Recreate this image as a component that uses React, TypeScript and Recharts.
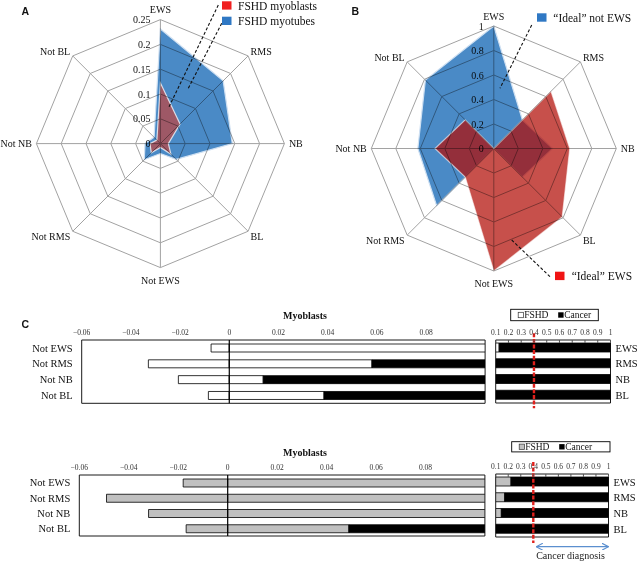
import React from 'react';
import {
  RadarChart, Radar, PolarGrid, PolarAngleAxis, PolarRadiusAxis,
  BarChart, Bar, XAxis, YAxis, ReferenceLine, ReferenceArea,
} from 'recharts';

const SERIF = '"Liberation Serif", "Times New Roman", serif';
const SANS = '"Liberation Sans", Arial, sans-serif';

// ---------- Panel A / B data ----------
const radarCategories = ['EWS', 'RMS', 'NB', 'BL', 'Not EWS', 'Not RMS', 'Not NB', 'Not BL'];
const fshdMyoblasts = [0.122, 0.056, 0.016, 0.03, 0.008, 0.026, 0.021, 0.01];
const fshdMyotubes = [0.231, 0.179, 0.145, 0.045, 0.02, 0.046, 0.031, 0.018];
const idealNotEws = [1, 0.33, 0.48, 0.33, 0, 0.66, 0.62, 0.79];
const idealEws = [0, 0.66, 0.62, 0.79, 1, 0.33, 0.48, 0.33];
const radarTicksA = [0, 0.05, 0.1, 0.15, 0.2, 0.25];
const radarTicksB = [0, 0.2, 0.4, 0.6, 0.8, 1];

// ---------- Panel C data ----------
const notCategories = ['Not EWS', 'Not RMS', 'Not NB', 'Not BL'];
const cancerCategories = ['EWS', 'RMS', 'NB', 'BL'];
const scoreTicks = [-0.06, -0.04, -0.02, 0, 0.02, 0.04, 0.06, 0.08];
const fracTicks = [0.1, 0.2, 0.3, 0.4, 0.5, 0.6, 0.7, 0.8, 0.9, 1];
const SCORE_MIN = -0.06;
const SCORE_MAX = 0.104;
const FRAC_MIN = 0.1;
const FRAC_MAX = 1;
const diagnosisThreshold = 0.4;

// upper row (FSHD = white)
const topNotScore = [-0.0074, -0.0329, -0.0207, -0.0085];
const topFshdScore = [0.12, 0.058, 0.0138, 0.0385];
const topCancerScore = [0.02, 0.08, 0.1, 0.08];
const topFshdFrac = [0.127, 0.06, 0.05, 0.05];
const topCancerFrac = [0.873, 0.94, 0.95, 0.95];

// lower row (FSHD = grey)
const botNotScore = [-0.018, -0.049, -0.032, -0.0168];
const botFshdScore = [0.12, 0.12, 0.12, 0.049];
const botCancerScore = [0.02, 0.02, 0.02, 0.07];
const botFshdFrac = [0.222, 0.172, 0.145, 0.06];
const botCancerFrac = [0.778, 0.828, 0.855, 0.94];

// ---------- build tables ----------
const dataA = radarCategories.map((cat, i) => ({ cat, myoblasts: fshdMyoblasts[i], myotubes: fshdMyotubes[i] }));
const dataB = radarCategories.map((cat, i) => ({ cat, notEws: idealNotEws[i], ews: idealEws[i] }));
const scoreTop = notCategories.map((cat, i) => ({ cat, not: topNotScore[i], fshd: topFshdScore[i], cancer: topCancerScore[i] }));
const scoreBot = notCategories.map((cat, i) => ({ cat, not: botNotScore[i], fshd: botFshdScore[i], cancer: botCancerScore[i] }));
const fracTop = cancerCategories.map((cat, i) => ({ cat, fshd: topFshdFrac[i], cancer: topCancerFrac[i] }));
const fracBot = cancerCategories.map((cat, i) => ({ cat, fshd: botFshdFrac[i], cancer: botCancerFrac[i] }));

const BLUE = '#4a8ac6';
const W = 639;
const H = 561;

const makeAngleTick = (cx: number, cy: number, r: number) => (props: any) => {
  const { payload } = props;
  const a = (payload.coordinate * Math.PI) / 180;
  const c = Math.cos(a);
  const s = Math.sin(a);
  const vx = cx + r * c;
  const vy = cy - r * s;
  let x = vx;
  let y = vy;
  let anchor = 'middle';
  if (Math.abs(c) < 0.01) {
    y = s > 0 ? vy - 10 : vy + 12.5;
  } else {
    anchor = c > 0 ? 'start' : 'end';
    const horiz = Math.abs(s) < 0.01;
    x = vx + (c > 0 ? 1 : -1) * (horiz ? 4.5 : 2.5);
    y = horiz ? vy : s > 0 ? vy - 4 : vy + 5;
  }
  return (
    <text x={x} y={y} textAnchor={anchor} dominantBaseline="central" fontSize={10} fontFamily={SERIF} fill="#111">
      {payload.value}
    </text>
  );
};

function RadarPanel({ left, top, width, height, cx, cy, r, ticks, data, series }: any) {
  const d0 = ticks[0];
  const d1 = ticks[ticks.length - 1];
  const toR = (v: number) => ((v - d0) / (d1 - d0)) * r;
  const ringRadii = ticks.map(toR);
  const common = { width, height, data, cx, cy, outerRadius: r, margin: { top: 0, right: 0, bottom: 0, left: 0 } };
  return (
    <>
      <div style={{ position: 'absolute', left, top }}>
        <RadarChart {...common}>
          <PolarAngleAxis dataKey="cat" tick={false} axisLine={false} tickLine={false} />
          <PolarRadiusAxis angle={90} type="number" domain={[d0, d1]} tick={false} axisLine={false} tickLine={false} />
          {series.map((s: any) => (
            <Radar key={s.key} dataKey={s.key} name={s.name} fill={s.fill} fillOpacity={s.opacity}
              stroke={s.stroke} strokeOpacity={s.strokeOpacity} strokeWidth={s.strokeWidth} dot={false} isAnimationActive={false} />
          ))}
        </RadarChart>
      </div>
      <div style={{ position: 'absolute', left, top, mixBlendMode: 'multiply' }}>
        <RadarChart {...common}>
          <PolarGrid gridType="polygon" stroke="#a2a2a2" strokeWidth={1} polarRadius={ringRadii} />
          <PolarAngleAxis dataKey="cat" tick={makeAngleTick(cx, cy, r)} axisLine={false} tickLine={false} />
          <PolarRadiusAxis angle={90} type="number" domain={[d0, d1]} tick={false} axisLine={false} tickLine={false} />
          <Radar dataKey={series[0].key} fill="none" stroke="none" dot={false} isAnimationActive={false} />
        </RadarChart>
        <svg width={width} height={height} style={{ position: 'absolute', left: 0, top: 0 }}>
          {ticks.map((v: number) => (
            <text key={v} x={cx - 10} y={cy - toR(v)} textAnchor="end" dominantBaseline="central" fontSize={10} fontFamily={SERIF} fill="#111">
              {String(v)}
            </text>
          ))}
        </svg>
      </div>
    </>
  );
}

const fmtScore = (v: number) => (v < 0 ? '\u2212' + String(Math.abs(v)) : String(v));

function ScoreChart({ left, top, width, height, margin, yWidth, data, fshdFill }: any) {
  return (
    <div style={{ position: 'absolute', left, top }}>
      <BarChart layout="vertical" width={width} height={height} data={data} margin={margin} stackOffset="sign" barSize={8}>
        <XAxis type="number" orientation="top" domain={[SCORE_MIN, SCORE_MAX]} ticks={scoreTicks} allowDataOverflow
          interval={0} axisLine={false} tickLine={false} tickSize={3} tickMargin={2} height={20}
          tick={{ fontSize: 7.5, fill: '#333', fontFamily: SERIF }} tickFormatter={fmtScore} />
        <YAxis type="category" dataKey="cat" width={yWidth} axisLine={false} tickLine={false} tickSize={6} tickMargin={3}
          interval={0} tick={{ fontSize: 10.5, fill: '#111', fontFamily: SERIF }} />
        <Bar dataKey="not" stackId="s" fill={fshdFill} stroke="#000" strokeWidth={0.8} isAnimationActive={false} />
        <Bar dataKey="fshd" stackId="s" fill={fshdFill} stroke="#000" strokeWidth={0.8} isAnimationActive={false} />
        <Bar dataKey="cancer" stackId="s" fill="#000" stroke="#000" strokeWidth={0.8} isAnimationActive={false} />
        <ReferenceLine x={0} stroke="#000" strokeWidth={1.2} />
        <ReferenceArea x1={SCORE_MIN} x2={SCORE_MAX} fill="none" fillOpacity={0} stroke="#1a1a1a" strokeWidth={1} />
      </BarChart>
    </div>
  );
}

function FracChart({ left, top, width, height, margin, data, fshdFill, extTop, extBottom }: any) {
  const dashShape = (p: any) => (
    <line x1={p.x1} x2={p.x2} y1={Math.min(p.y1, p.y2) - extTop} y2={Math.max(p.y1, p.y2) + extBottom}
      stroke="#e0201c" strokeWidth={2.4} strokeDasharray="4 1.6" />
  );
  return (
    <div style={{ position: 'absolute', left, top }}>
      <BarChart layout="vertical" width={width} height={height} data={data} margin={margin} barSize={9}>
        <XAxis type="number" orientation="top" domain={[FRAC_MIN, FRAC_MAX]} ticks={fracTicks} allowDataOverflow
          interval={0} axisLine={false} tickLine={{ stroke: '#555' }} tickSize={-3} tickMargin={8} height={20}
          tick={{ fontSize: 7.5, fill: '#333', fontFamily: SERIF }} />
        <YAxis type="category" dataKey="cat" orientation="right" width={28} axisLine={false} tickLine={false}
          tickSize={3} tickMargin={2} interval={0} tick={{ fontSize: 10.5, fill: '#111', fontFamily: SERIF }} />
        <Bar dataKey="fshd" stackId="f" fill={fshdFill} stroke="#000" strokeWidth={0.8} isAnimationActive={false} />
        <Bar dataKey="cancer" stackId="f" fill="#000" stroke="#000" strokeWidth={0.8} isAnimationActive={false} />
        <ReferenceArea x1={FRAC_MIN} x2={FRAC_MAX} fill="none" fillOpacity={0} stroke="#1a1a1a" strokeWidth={1} />
        <ReferenceLine x={diagnosisThreshold} shape={dashShape} />
      </BarChart>
    </div>
  );
}

function LegendC({ x, y, w, h, fshdFill }: any) {
  const cy = y + h / 2;
  return (
    <g>
      <rect x={x} y={y} width={w} height={h} fill="#fff" stroke="#000" strokeWidth={0.9} />
      <rect x={x + 7.5} y={cy - 2.7} width={5.4} height={5.4} fill={fshdFill} stroke="#333" strokeWidth={0.7} />
      <text x={x + 13.5} y={cy + 0.4} dominantBaseline="central" fontSize={9.5} fontFamily={SERIF} fill="#111">FSHD</text>
      <rect x={x + 47.5} y={cy - 2.7} width={5.4} height={5.4} fill="#000" />
      <text x={x + 53.5} y={cy + 0.4} dominantBaseline="central" fontSize={9.5} fontFamily={SERIF} fill="#111">Cancer</text>
    </g>
  );
}

export default function App() {
  const fracLeftBot = 495.7;
  const fracWidthBot = 112.8;
  const fx = (v: number) => fracLeftBot + ((v - FRAC_MIN) / (FRAC_MAX - FRAC_MIN)) * fracWidthBot;

  return (
    <div style={{ position: 'absolute', left: 0, top: 0, width: W, height: H, background: '#fff', overflow: 'hidden', fontFamily: SERIF }}>
      <RadarPanel left={0} top={0} width={320} height={300} cx={160.4} cy={143.6} r={124} ticks={radarTicksA} data={dataA}
        series={[
          { key: 'myotubes', name: 'FSHD myotubes', fill: BLUE, opacity: 1, stroke: '#cfe0f2', strokeOpacity: 1, strokeWidth: 1.2 },
          { key: 'myoblasts', name: 'FSHD myoblasts', fill: 'rgb(187,71,69)', opacity: 0.75, stroke: '#ffffff', strokeOpacity: 0.75, strokeWidth: 1.2 },
        ]} />
      <RadarPanel left={320} top={0} width={319} height={300} cx={173.8} cy={148.5} r={122.5} ticks={radarTicksB} data={dataB}
        series={[
          { key: 'notEws', name: '\u201CIdeal\u201D not EWS', fill: BLUE, opacity: 1, stroke: '#cfe0f2', strokeOpacity: 1, strokeWidth: 1.2 },
          { key: 'ews', name: '\u201CIdeal\u201D EWS', fill: 'rgb(178,12,5)', opacity: 0.72, stroke: '#ffffff', strokeOpacity: 0.6, strokeWidth: 1.2 },
        ]} />

      <ScoreChart left={0} top={300} width={500} height={120} yWidth={81.7}
        margin={{ top: 20, right: 14.9, bottom: 16.7, left: 0 }} data={scoreTop} fshdFill="#ffffff" />
      <FracChart left={490} top={300} width={149} height={120}
        margin={{ top: 20, right: 0.5, bottom: 17, left: 5.7 }} data={fracTop} fshdFill="#ffffff" extTop={6.7} extBottom={5.3} />
      <ScoreChart left={0} top={430} width={500} height={120} yWidth={79.3}
        margin={{ top: 25, right: 15.1, bottom: 14, left: 0 }} data={scoreBot} fshdFill="#c0c0c0" />
      <FracChart left={490} top={430} width={149} height={120}
        margin={{ top: 24, right: 2.5, bottom: 13, left: 5.7 }} data={fracBot} fshdFill="#c0c0c0" extTop={12} extBottom={6} />

      <svg width={W} height={H} style={{ position: 'absolute', left: 0, top: 0, pointerEvents: 'none' }}>
        <defs>
          <marker id="chev" viewBox="0 0 8 8" refX="7.5" refY="4" markerWidth="7" markerHeight="7" orient="auto-start-reverse" markerUnits="userSpaceOnUse">
            <path d="M0,0 L7.5,4 L0,8" fill="none" stroke="#5b8fcf" strokeWidth={1.3} />
          </marker>
        </defs>
        <text x={21.5} y={15} fontSize={10.5} fontWeight="bold" fontFamily={SANS} fill="#111">A</text>
        <text x={351.5} y={15} fontSize={10.5} fontWeight="bold" fontFamily={SANS} fill="#111">B</text>
        <text x={21.5} y={327.5} fontSize={10.5} fontWeight="bold" fontFamily={SANS} fill="#111">C</text>

        <line x1={218.3} y1={5} x2={168.3} y2={108.3} stroke="#111" strokeWidth={1.1} strokeDasharray="3 2" />
        <line x1={221.7} y1={23.3} x2={188.3} y2={88.3} stroke="#111" strokeWidth={1.1} strokeDasharray="3 2" />
        <rect x={222} y={1.3} width={9.5} height={8.3} fill="#f02020" />
        <text x={238} y={5.6} dominantBaseline="central" fontSize={11.5} fontFamily={SERIF} fill="#111">FSHD myoblasts</text>
        <rect x={222} y={16.7} width={9.5} height={8.3} fill="#2f78c4" />
        <text x={238} y={21} dominantBaseline="central" fontSize={11.5} fontFamily={SERIF} fill="#111">FSHD myotubes</text>

        <line x1={531.7} y1={25} x2={500} y2={88.3} stroke="#111" strokeWidth={1.1} strokeDasharray="3 2" />
        <line x1={511.7} y1={240} x2={550} y2={276.7} stroke="#111" strokeWidth={1.1} strokeDasharray="3 2" />
        <rect x={537} y={13.3} width={9.5} height={8.4} fill="#2f78c4" />
        <text x={553.3} y={17.6} dominantBaseline="central" fontSize={11.5} fontFamily={SERIF} fill="#111">{'\u201CIdeal\u201D not EWS'}</text>
        <rect x={555} y={271.7} width={9.5} height={8.4} fill="#f01414" />
        <text x={571.7} y={276} dominantBaseline="central" fontSize={11.5} fontFamily={SERIF} fill="#111">{'\u201CIdeal\u201D EWS'}</text>

        <text x={305} y={318.5} textAnchor="middle" fontSize={10} fontWeight="bold" fontFamily={SERIF} fill="#111">Myoblasts</text>
        <text x={305} y={455.5} textAnchor="middle" fontSize={10} fontWeight="bold" fontFamily={SERIF} fill="#111">Myoblasts</text>
        <LegendC x={510.7} y={309.3} w={87.6} h={11.4} fshdFill="#ffffff" />
        <LegendC x={511.7} y={441.7} w={98.3} h={10.2} fshdFill="#c0c0c0" />

        <line x1={fx(diagnosisThreshold) + 3} y1={546.7} x2={fx(FRAC_MAX)} y2={546.7} stroke="#5b8fcf" strokeWidth={1.3}
          markerStart="url(#chev)" markerEnd="url(#chev)" />
        <text x={570.5} y={559.3} textAnchor="middle" fontSize={10} fontFamily={SERIF} fill="#222">Cancer diagnosis</text>
      </svg>
    </div>
  );
}
